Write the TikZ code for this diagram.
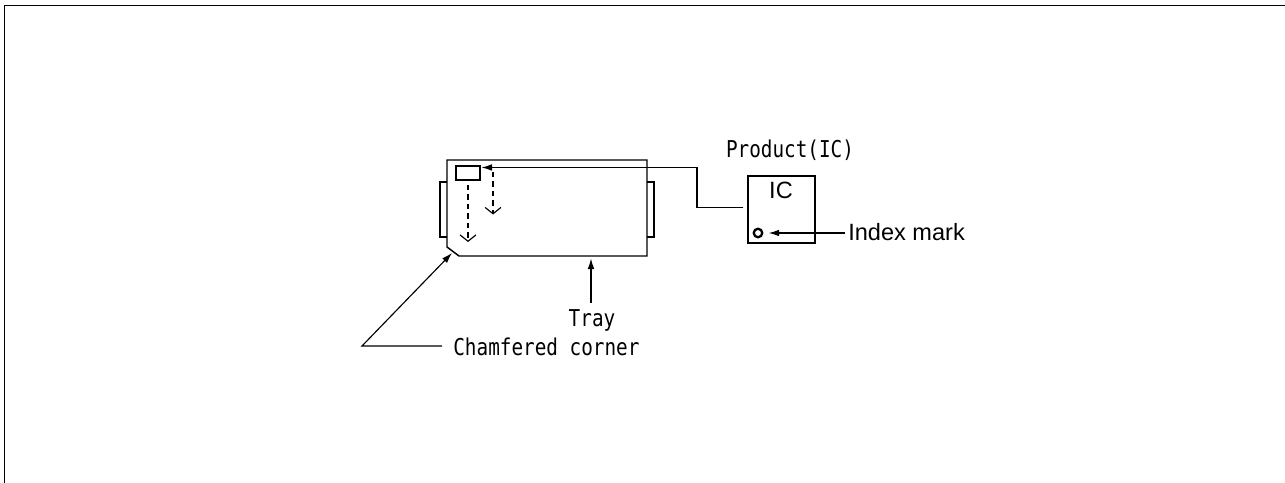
\documentclass[tikz,border=0pt]{standalone}
\usepackage{fontspec}
\setmainfont{Liberation Sans}
\setmonofont{DejaVu Sans Mono}
\usetikzlibrary{arrows.meta, positioning, calc}
\newcommand{\tallmono}[1]{\scalebox{1}[1.2]{#1}}

\begin{document}
\begin{tikzpicture}[
    x=0.02cm, y=-0.02cm,              % one unit is one pixel of the reference
    line_thin/.style={line width=0.65pt, black},
    line_body/.style={line width=0.8pt, black},
    lead/.style={line_thin, -{Latex[length=6pt, width=3.8pt]}},
    drop/.style={line_thin, dash pattern=on 3.1pt off 2.3pt, -{Straight Barb[length=3.6pt, width=9pt, line width=0.65pt]}},
    sans_label/.style={font=\fontsize{13.4pt}{15pt}\selectfont, inner sep=0pt},
    mono_label/.style={font=\ttfamily\fontsize{11pt}{13pt}\selectfont, inner sep=0pt}
    ]
    \useasboundingbox (0,0) rectangle (1285,483);

    % Frame, open on the right and at the bottom
    \coordinate (frame_a) at (4.5,483);
    \coordinate (frame_b) at (4.5,5.5);
    \coordinate (frame_c) at (1285,5.5);
    \draw[line_body] (frame_a) -- (frame_b) -- (frame_c);

    % Tray with its chamfered corner and side tabs
    \draw[line_body] (447,182) -- (440,182) -- (440,237) -- (447,237);
    \draw[line_body] (647,182) -- (654,182) -- (654,237) -- (647,237);
    \draw[line_body] (447,160) -- (647,160) -- (647,256) -- (459,256) -- (447,247) -- cycle;

    % Nodes
    \node[draw, line_body, minimum width=0.48cm, minimum height=0.28cm, inner sep=0pt] (slot) at (468,173) {};
    \node[draw, line_thin, minimum width=1.34cm, minimum height=1.34cm, inner sep=0pt] (ic) at (781.5,209.5) {};
    \node[sans_label] (ic_text) at (781,190.5) {IC};
    \node[circle, draw, line width=1.3pt, minimum size=0.17cm, inner sep=0pt] (mark) at (758,233) {};
    \node[sans_label, anchor=west] (mark_text) at (848,232.5) {Index mark};
    \node[mono_label] (product) at (790,150) {\tallmono{Product(IC)}};
    \node[mono_label] (tray) at (592,320) {\tallmono{Tray}};
    \node[mono_label, anchor=west] (corner) at (453,347) {\tallmono{Chamfered corner}};

    % Free ends of the leader lines
    \coordinate (bend_a) at (697,167.5);
    \coordinate (bend_b) at (697,207.5);
    \coordinate (ic_end) at (743,207.5);
    \coordinate (slot_tip) at (481.5,167.5);
    \coordinate (tray_tip) at (591,258.5);
    \coordinate (tray_end) at (591,303);
    \coordinate (corner_tip) at (452,253);
    \coordinate (corner_bend) at (362,346);
    \coordinate (corner_end) at (442,346);
    \coordinate (mark_end) at (845,233);

    % Arrows
    \draw[lead] (ic_end) -- (bend_b) -- (bend_a) -- (slot_tip);
    \draw[lead, shorten >=3pt] (mark_end) -- (mark.east);
    \draw[lead] (tray_end) -- (tray_tip);
    \draw[lead] (corner_end) -- (corner_bend) -- (corner_tip);

    % Dashed drop lines
    \draw[drop] (468,185) -- (468,242);
    \draw[drop] (493,172) -- (493,214.5);
\end{tikzpicture}
\end{document}
